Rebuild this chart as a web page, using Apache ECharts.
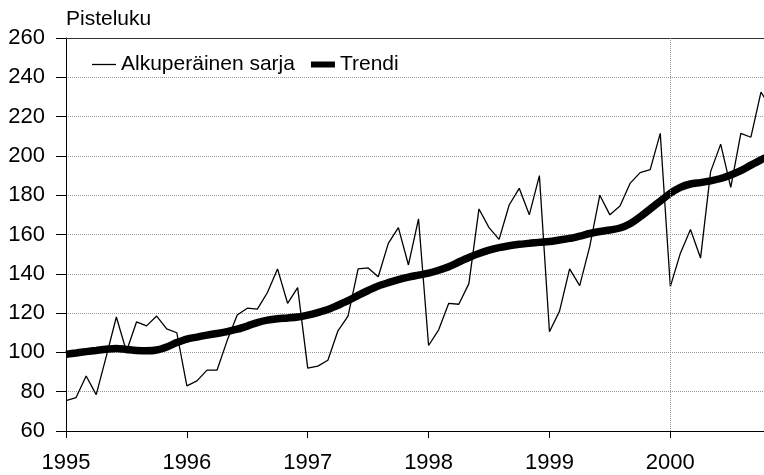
<!DOCTYPE html>
<html>
<head>
<meta charset="utf-8">
<script src="https://cdn.jsdelivr.net/npm/echarts@6/dist/echarts.min.js"></script>
<style>
  html, body { margin: 0; padding: 0; background: #fff; }
  #chart { width: 764px; height: 475px; }
</style>
</head>
<body>
<div id="chart"></div>
<script>
// months counted from Jan 1995
const yearLabels = ['1995', '1996', '1997', '1998', '1999', '2000']
const yearTicks = [0, 12, 24, 36, 48, 60]

const original = [
  75.5, 77, 88, 78.5, 98, 118, 100.5, 115.5, 113.5, 118.5, 112, 110,
  83, 85.5, 91, 91, 106, 119, 122.5, 122, 130.5, 142.5, 125, 133,
  92, 93, 96, 111, 118.5, 142.5, 143, 138.5, 155.5, 163.5, 144.5, 168,
  103.5, 111.5, 125, 124.5, 135, 173, 163.5, 157.5, 175, 183.5, 170, 190,
  110.5, 121, 142.5, 134, 154, 180, 170, 174.5, 186, 191.5, 193, 211.5,
  133.5, 150.5, 162.5, 148, 192, 206, 184, 211.5, 209.5, 232.5, 224
]

const trend = [
  99, 99.7, 100.4, 101, 101.6, 102, 101.5, 101, 100.8, 101.2, 102.8, 105,
  106.8, 107.8, 108.8, 109.6, 110.6, 111.8, 113.4, 115.2, 116.4, 117.1, 117.5, 118,
  119, 120.3, 121.8, 124, 126.3, 129, 131.5, 133.8, 135.5, 137, 138.3, 139.3,
  140.3, 141.8, 143.6, 146, 148.3, 150.3, 152, 153.3, 154.3, 155, 155.5, 156,
  156.4, 157.2, 158, 159.2, 160.5, 161.5, 162.3, 163.3, 165.5, 169, 173, 177,
  181, 184, 185.7, 186.4, 187.3, 188.5, 190.3, 192.5, 195.3, 198, 200.5
]

const font = "'Liberation Sans', Arial, sans-serif"
const toPairs = arr => arr.map((v, i) => [i, v])

const chart = echarts.init(document.getElementById('chart'))
chart.setOption({
  animation: false,
  textStyle: { fontFamily: font, color: '#000' },
  grid: { left: 66, right: 0, top: 38, bottom: 44 },
  legend: {
    left: 87,
    top: 49,
    itemWidth: 24,
    itemHeight: 14,
    itemGap: 16,
    textStyle: { fontSize: 21, color: '#000', fontFamily: font },
    data: [
      { name: 'Alkuperäinen sarja', icon: 'path://M0,0H24V1.3H0Z' },
      { name: 'Trendi', icon: 'path://M0,0H24V6H0Z' }
    ]
  },
  xAxis: [
    {
      type: 'value',
      min: 0,
      max: 69.3,
      splitLine: { show: false },
      axisLine: { lineStyle: { color: '#000', width: 1 } },
      axisTick: { length: 7, lineStyle: { color: '#000' }, customValues: yearTicks },
      axisLabel: {
        fontSize: 22,
        color: '#000',
        margin: 21,
        customValues: yearTicks,
        formatter: v => yearLabels[Math.round(v / 12)]
      }
    },
    {
      type: 'value',
      position: 'top',
      min: 0,
      max: 69.3,
      splitLine: { show: false },
      axisLine: { show: true, lineStyle: { color: '#333', width: 1 } },
      axisTick: { show: false },
      axisLabel: { show: false }
    }
  ],
  yAxis: {
    type: 'value',
    min: 60,
    max: 260,
    interval: 20,
    name: 'Pisteluku',
    nameLocation: 'end',
    nameGap: 8,
    nameTextStyle: { fontSize: 21, color: '#000', align: 'left' },
    axisLine: { show: true, lineStyle: { color: '#000', width: 1 } },
    axisTick: { show: true, length: 10, lineStyle: { color: '#000' } },
    axisLabel: { fontSize: 22, color: '#000', margin: 21 },
    splitLine: { lineStyle: { color: '#999', type: 'dotted', width: 1 } }
  },
  series: [
    {
      name: 'Alkuperäinen sarja',
      type: 'line',
      data: toPairs(original),
      showSymbol: false,
      symbol: 'none',
      lineStyle: { color: '#000', width: 1.3 },
      itemStyle: { color: '#000' },
      markLine: {
        silent: true,
        symbol: 'none',
        label: { show: false },
        lineStyle: { color: '#999', type: 'dotted', width: 1 },
        data: [{ xAxis: 60 }]
      }
    },
    {
      name: 'Trendi',
      type: 'line',
      data: toPairs(trend),
      showSymbol: false,
      symbol: 'none',
      smooth: 0.3,
      lineStyle: { color: '#000', width: 7.5 },
      itemStyle: { color: '#000' }
    }
  ]
})
</script>
</body>
</html>
